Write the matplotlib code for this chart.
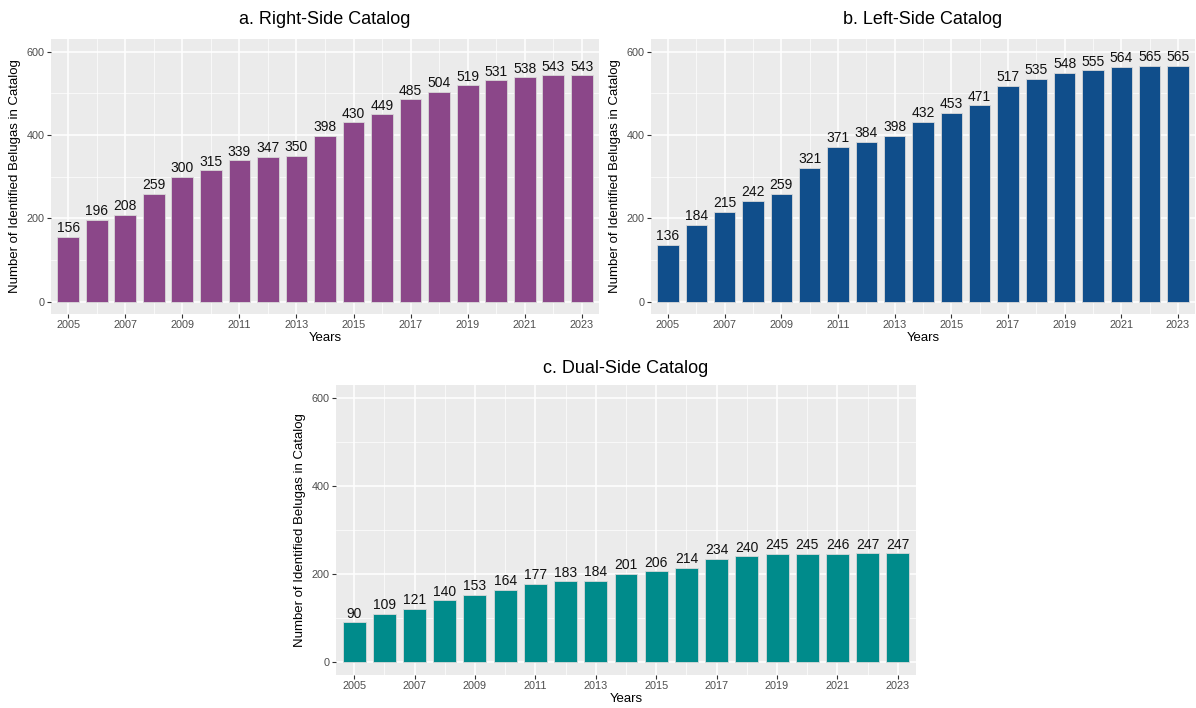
import matplotlib
matplotlib.use("Agg")
import matplotlib.pyplot as plt
from matplotlib.ticker import MultipleLocator
import numpy as np

plt.rcParams["font.family"] = ["Liberation Sans", "DejaVu Sans"]

# ── Data ───────────────────────────────────────────────────────────────────────
years = list(range(2005, 2024))
right_side = [156, 196, 208, 259, 300, 315, 339, 347, 350, 398, 430, 449,
              485, 504, 519, 531, 538, 543, 543]
left_side = [136, 184, 215, 242, 259, 321, 371, 384, 398, 432, 453, 471,
             517, 535, 548, 555, 564, 565, 565]
dual_side = [90, 109, 121, 140, 153, 164, 177, 183, 184, 201, 206, 214,
             234, 240, 245, 245, 246, 247, 247]

panels = [
    ("a. Right-Side Catalog", right_side, "#8B4789", [51 / 1196, 394 / 708, 548 / 1196, 275 / 708], 10.5),
    ("b. Left-Side Catalog", left_side, "#104E8B", [651 / 1196, 394 / 708, 544 / 1196, 275 / 708], 10.5),
    ("c. Dual-Side Catalog", dual_side, "#008B8B", [336 / 1196, 33 / 708, 580 / 1196, 290 / 708], 8.5),
]

fig = plt.figure(figsize=(11.96, 7.08), dpi=100)

for title, vals, color, rect, tpad in panels:
    ax = fig.add_axes(rect)
    ax.set_facecolor("#EBEBEB")
    ax.bar(years, vals, width=0.76, color=color, edgecolor="#D8D8D8",
           linewidth=0.6, zorder=3)
    for x, v in zip(years, vals):
        ax.text(x, v + 4, str(v), ha="center", va="bottom", fontsize=10,
                color="#111111", zorder=4)

    ax.set_xlim(2004.4, 2023.6)
    ax.set_ylim(-30, 630)
    ax.set_xticks(years[::2])
    ax.set_xticks(years[1::2], minor=True)
    ax.set_yticks([0, 200, 400, 600])
    ax.set_yticks([100, 300, 500], minor=True)
    ax.grid(which="major", color="white", linewidth=1.1, zorder=0)
    ax.grid(which="minor", color="white", linewidth=0.5, zorder=0)
    ax.set_axisbelow(True)
    for s in ax.spines.values():
        s.set_visible(False)
    ax.tick_params(which="major", length=3, width=0.8, color="#333333",
                   labelsize=7.8, labelcolor="#4D4D4D", pad=1.5)
    ax.tick_params(which="minor", length=0)

    ax.set_title(title, fontsize=13, pad=tpad)
    ax.set_xlabel("Years", fontsize=9.5, labelpad=1)
    ax.set_ylabel("Number of Identified Belugas in Catalog", fontsize=9.5,
                  labelpad=4)

fig.savefig("out.png", dpi=100)
